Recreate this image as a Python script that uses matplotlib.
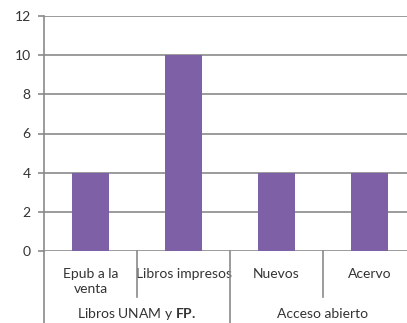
import matplotlib
matplotlib.use("Agg")
import matplotlib.pyplot as plt
import matplotlib.transforms as mtransforms

plt.rcParams['font.family'] = ['Lato', 'DejaVu Sans']
plt.rcParams['mathtext.fontset'] = 'custom'
plt.rcParams['mathtext.rm'] = 'Lato'
plt.rcParams['mathtext.bf'] = 'Lato:bold'

# libros por categoria
categorias = ['Epub a la\nventa', 'Libros impresos', 'Nuevos', 'Acervo']
valores = [4, 10, 4, 4]
grupos = ['Libros UNAM y $\\mathbf{FP.}$', 'Acceso abierto']
grupo_centros = [0.5, 2.5]
yticks = [0, 2, 4, 6, 8, 10, 12]

gris = '#8a8a8a'
morado = '#7d60a5'
texto = '#333333'

fig = plt.figure(figsize=(4.07, 3.23), dpi=100)
ax = fig.add_axes([44 / 407, 72 / 323, 372 / 407, 235 / 323])

ax.bar(range(len(valores)), valores, width=0.4, color=morado, zorder=3)
ax.set_xlim(-0.5, len(valores) - 0.5)
ax.set_ylim(0, 12)
ax.set_yticks(yticks)
ax.set_yticklabels([str(v) for v in yticks], fontsize=10, color=texto)
ax.yaxis.grid(True, color=gris, linewidth=1.2, zorder=0)
ax.tick_params(axis='y', length=4.5, width=1.2, color=gris, pad=5)

ax.set_xticks(range(len(categorias)))
ax.set_xticklabels(categorias, fontsize=10, color=texto, linespacing=1.3)
ax.tick_params(axis='x', length=0, pad=12)

for s in ['top', 'right', 'bottom']:
    ax.spines[s].set_visible(False)
ax.spines['left'].set_color(gris)
ax.spines['left'].set_linewidth(1.2)

trans = mtransforms.blended_transform_factory(ax.transData, ax.transAxes)
# separadores entre categorias y grupos
for x, y0 in [(-0.5, -0.4), (0.5, -0.196), (1.5, -0.4), (2.5, -0.196)]:
    ax.plot([x, x], [0, y0], transform=trans, color=gris, linewidth=1.2,
            clip_on=False, zorder=2)

for x, lab in zip(grupo_centros, grupos):
    ax.text(x, -0.27, lab, transform=trans, ha='center', va='center',
            fontsize=10, color=texto)

fig.savefig('out.png', dpi=100)
